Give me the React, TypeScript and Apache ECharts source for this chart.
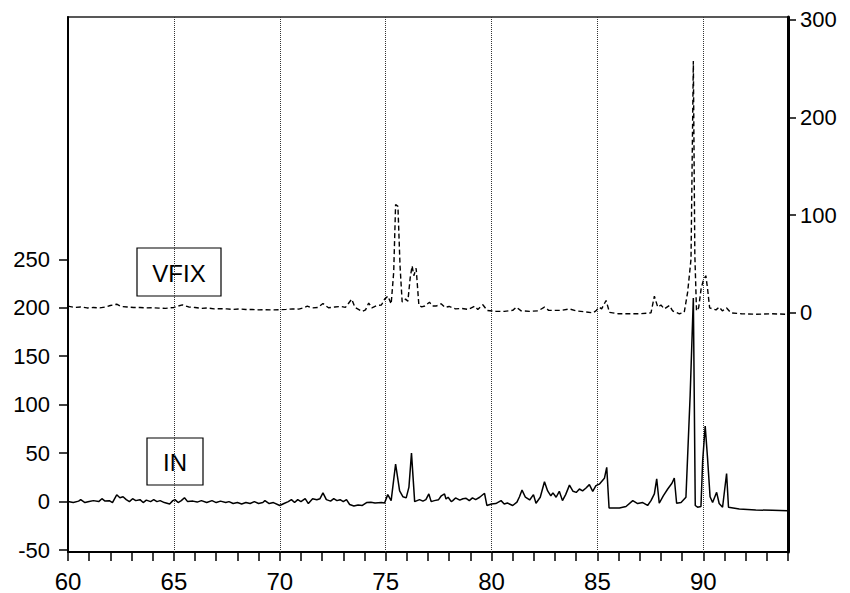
import React, { useEffect, useRef } from "react";
import * as echarts from "echarts";

// IN series (left axis)
const inX = [
  60.0, 60.25, 60.5, 60.6, 60.8, 61.0, 61.2, 61.45, 61.6, 61.75, 61.95, 62.1, 62.3, 62.45, 62.6, 62.75, 62.9,
  63.05, 63.2, 63.4, 63.55, 63.7, 63.9, 64.05, 64.2, 64.35, 64.55, 64.8, 64.95, 65.05, 65.2, 65.35, 65.5, 65.65,
  65.9, 66.1, 66.3, 66.55, 66.8, 67.0, 67.2, 67.45, 67.6, 67.8, 68.0, 68.2, 68.4, 68.6, 68.8, 69.0, 69.2, 69.3,
  69.5, 69.7, 70.0, 70.2, 70.4, 70.55, 70.7, 70.85, 71.0, 71.2, 71.35, 71.55, 71.75, 71.9, 72.04, 72.2, 72.4,
  72.55, 72.7, 72.85, 73.0, 73.15, 73.3, 73.5, 73.7, 73.9, 74.1, 74.3, 74.5, 74.8, 74.95, 75.1, 75.26, 75.47,
  75.66, 75.82, 75.97, 76.1, 76.22, 76.37, 76.6, 76.76, 76.9, 77.04, 77.15, 77.3, 77.5, 77.63, 77.78, 77.85,
  77.95, 78.1, 78.17, 78.3, 78.5, 78.65, 78.8, 78.95, 79.1, 79.25, 79.44, 79.67, 79.78, 80.0, 80.2, 80.45, 80.6,
  80.75, 81.0, 81.2, 81.32, 81.44, 81.6, 81.8, 81.98, 82.1, 82.3, 82.5, 82.65, 82.8, 82.9, 83.05, 83.2, 83.35,
  83.5, 83.68, 83.85, 84.0, 84.15, 84.3, 84.45, 84.62, 84.78, 84.93, 85.09, 85.33, 85.44, 85.55, 86.04, 86.35,
  86.67, 86.9, 87.14, 87.37, 87.53, 87.69, 87.8, 87.92, 88.11, 88.32, 88.52, 88.63, 88.74, 88.95, 89.18, 89.38,
  89.53, 89.62, 89.73, 89.89, 89.97, 90.09, 90.2, 90.32, 90.44, 90.63, 90.75, 90.91, 91.1, 91.19, 91.7, 92.48,
  93.27, 94.0,
];
const inY = [
  0, -1, 0.5, 2, -1, 0, 1, 0, 3, 0.5, 1, -1, 7, 4, 5, 2, 0,
  3, 1, 2, -1, 1.5, 0, 2, 0, 1, -1, -2.4, 1, 2, -1, 1, 4, 0,
  0.5, -0.5, 1, -1, 1, -1, 0.5, -1, 0, -2, -1, -2.4, -1, -2, 0, -2, -1, 1,
  -2, -1, -4, -2, 0, 2, -1, 2, 0, 3, -2, 3, 2, 3, 9, 2, 0.5,
  3, 1, 2, 0, 2, -3, -4.5, -3.5, -4, -1, -0.7, -1.5, -1, -1.5, 7.2, 1, 38.8,
  11, 5, 3.8, 15, 50, 0, 2, 0.5, 2, 7.9, 0, 1, 2, 6, 8, 2.7,
  4.5, 0, 1, 3.8, 1.5, 3, 3.4, 1, 3.8, 2, 4.5, 8.6, -4, -2.4, -2, 1, -2.4,
  -1.5, -4, -0.5, 5, 11.9, 4.5, 1.7, 7.2, -1.7, 4.5, 20.5, 11, 6, 9, 4.5, 10.6, 1,
  7.2, 17, 10.6, 9.5, 13, 11, 13.8, 17.5, 10.5, 16.5, 18, 24, 35.4, -6.5, -6.5, -5,
  1, -2, -1, -4, 1, 8, 23.4, -1.7, 6, 13, 19, 24.4, -1.7, -1, 4.5, 110,
  210, -4, -5.8, -5, 42, 78, 45, 5, -1, 9.6, -2, -5.8, 29, -5.8, -7.6, -8.6,
  -9, -9.5,
];

// VFIX series (right axis)
const vfixX = [
  60.0, 60.3, 60.6, 60.9, 61.2, 61.5, 61.8, 62.0, 62.3, 62.5, 62.8, 63.1, 63.4, 63.7, 64.0, 64.3, 64.6, 65.0,
  65.4, 65.7, 66.0, 66.3, 66.6, 66.9, 67.2, 67.5, 67.8, 68.1, 68.4, 68.7, 69.0, 69.3, 69.6, 70.0, 70.3, 70.6,
  70.9, 71.1, 71.3, 71.5, 71.8, 72.04, 72.3, 72.6, 72.9, 73.1, 73.4, 73.55, 73.9, 74.05, 74.2, 74.35, 74.6, 74.8,
  74.95, 75.11, 75.26, 75.38, 75.47, 75.58, 75.68, 75.78, 75.94, 76.05, 76.16, 76.25, 76.33, 76.44, 76.57, 76.7,
  76.85, 77.07, 77.2, 77.4, 77.62, 77.8, 78.0, 78.3, 78.6, 78.9, 79.2, 79.35, 79.59, 79.8, 80.2, 80.6, 81.0,
  81.17, 81.4, 81.8, 82.2, 82.5, 82.7, 83.0, 83.3, 83.68, 84.0, 84.4, 84.78, 84.93, 85.09, 85.2, 85.41, 85.57,
  86.0, 86.5, 87.0, 87.53, 87.69, 87.85, 88.0, 88.16, 88.4, 88.55, 88.87, 89.1, 89.26, 89.42, 89.53, 89.6, 89.68,
  89.78, 89.9, 90.0, 90.12, 90.2, 90.3, 90.45, 90.6, 90.75, 90.9, 91.1, 91.3, 91.8, 92.5, 93.2, 94.0,
];
const vfixY = [
  6.8, 5.5, 6, 5, 5.4, 5, 6, 7.5, 8.8, 6.5, 6, 5.4, 5.5, 5, 5.2, 4.8, 4.5, 5.5,
  8.2, 6, 5.4, 4.5, 5, 4, 4.3, 4, 3.5, 4, 3.4, 3.5, 3, 3.2, 3, 3.1, 3.5, 4,
  3.8, 5, 6.8, 5, 5.5, 9.5, 5.2, 6, 6.5, 5.5, 14, 5.5, 1.4, 3, 10, 5, 7.5, 8,
  14, 17, 9, 41.5, 111, 109, 48, 11, 14, 12, 36, 48, 38, 45.6, 7.5, 6,
  7, 10.9, 7, 7, 9.2, 5.5, 6.5, 4, 4.5, 3.5, 6.8, 3.5, 8.2, 2.4, 1.5, 1.5, 2.5,
  5.8, 2, 1.5, 2, 5.8, 2.5, 2.5, 2.5, 4, 2, 1, 0, 2, 5.8, 4, 12.6, 0.5,
  -1, -1, -1, 0, 17, 5.8, 8, 4, 7.5, 2, -1, 0.5, 21, 55, 258, 60, 2,
  5, 25, 33, 38, 25, 5, 4, 3, 6, 2, 5, 0, -1, -1.5, -1, -1.5,
];

const xTickValues = [
  60, 61, 62, 63, 64, 65, 66, 67, 68, 69, 70, 71, 72, 73, 74, 75, 76, 77, 78, 79, 80, 81, 82, 83, 84, 85, 86, 87,
  88, 89, 90, 91, 92, 93, 94,
];
const xLabelValues = [60, 65, 70, 75, 80, 85, 90];
const xGridValues = [65, 70, 75, 80, 85, 90];
const leftTickValues = [-50, 0, 50, 100, 150, 200, 250];
const rightTickValues = [0, 100, 200, 300];

const FONT = "'Liberation Sans', Arial, sans-serif";

export default function App() {
  const ref = useRef<HTMLDivElement>(null);
  useEffect(() => {
    const chart = echarts.init(ref.current!, null, { renderer: "svg" });
    const inData = inX.map((x, i) => [x, inY[i]]);
    const vfixData = vfixX.map((x, i) => [x, vfixY[i]]);
    chart.setOption({
      animation: false,
      backgroundColor: "#fff",
      grid: {
        left: 68,
        right: 62,
        top: 17,
        bottom: 40,
        show: true,
        borderColor: "#222",
        borderWidth: 1.5,
      },
      xAxis: {
        type: "value",
        min: 60,
        max: 94,
        interval: 5,
        axisLine: { show: true, onZero: false, lineStyle: { color: "#000", width: 2 } },
        axisTick: {
          show: true,
          inside: false,
          length: 9,
          customValues: xTickValues,
          lineStyle: { color: "#000", width: 1.5 },
        },
        axisLabel: {
          customValues: xLabelValues,
          color: "#000",
          fontSize: 24,
          fontFamily: FONT,
          margin: 17,
        },
        splitLine: { show: false },
      },
      yAxis: [
        {
          type: "value",
          position: "left",
          min: -52,
          max: 500,
          axisLine: { show: true, onZero: false, lineStyle: { color: "#000", width: 2 } },
          axisTick: {
            show: true,
            inside: false,
            length: 9,
            customValues: leftTickValues,
            lineStyle: { color: "#000", width: 1.5 },
          },
          axisLabel: {
            customValues: leftTickValues,
            color: "#000",
            fontSize: 22,
            fontFamily: FONT,
            margin: 18,
          },
          splitLine: { show: false },
        },
        {
          type: "value",
          position: "right",
          min: -245,
          max: 303,
          axisLine: { show: true, onZero: false, lineStyle: { color: "#000", width: 3 } },
          axisTick: {
            show: true,
            inside: false,
            length: 8,
            customValues: rightTickValues,
            lineStyle: { color: "#000", width: 1.5 },
          },
          axisLabel: {
            customValues: rightTickValues,
            color: "#000",
            fontSize: 22,
            fontFamily: FONT,
            margin: 12,
          },
          splitLine: { show: false },
        },
      ],
      series: [
        {
          name: "IN",
          type: "line",
          yAxisIndex: 0,
          data: inData,
          showSymbol: false,
          symbol: "none",
          lineStyle: { color: "#000", width: 1.5 },
          z: 3,
          markLine: {
            silent: true,
            symbol: ["none", "none"],
            label: { show: false },
            lineStyle: { color: "#333", type: "dotted", width: 1 },
            data: xGridValues.map((v) => ({ xAxis: v })),
            z: 1,
          },
        },
        {
          name: "VFIX",
          type: "line",
          yAxisIndex: 1,
          data: vfixData,
          showSymbol: false,
          symbol: "none",
          lineStyle: { color: "#000", width: 1.4, type: [5, 3] },
          z: 3,
        },
      ],
      graphic: [
        {
          type: "group",
          z: 10,
          children: [
            {
              type: "rect",
              shape: { x: 137, y: 248, width: 84, height: 48 },
              style: { fill: "#fff", stroke: "#000", lineWidth: 1.2 },
            },
            {
              type: "text",
              x: 179,
              y: 273,
              style: {
                text: "VFIX",
                fill: "#000",
                fontSize: 24,
                fontFamily: FONT,
                textAlign: "center",
                textVerticalAlign: "middle",
              },
            },
            {
              type: "rect",
              shape: { x: 147, y: 438, width: 56, height: 47 },
              style: { fill: "#fff", stroke: "#000", lineWidth: 1.2 },
            },
            {
              type: "text",
              x: 175,
              y: 462,
              style: {
                text: "IN",
                fill: "#000",
                fontSize: 24,
                fontFamily: FONT,
                textAlign: "center",
                textVerticalAlign: "middle",
              },
            },
          ],
        },
      ],
    });
    return () => chart.dispose();
  }, []);
  return (
    <div
      ref={ref}
      style={{ position: "absolute", left: 0, top: 0, width: 850, height: 593 }}
    />
  );
}
